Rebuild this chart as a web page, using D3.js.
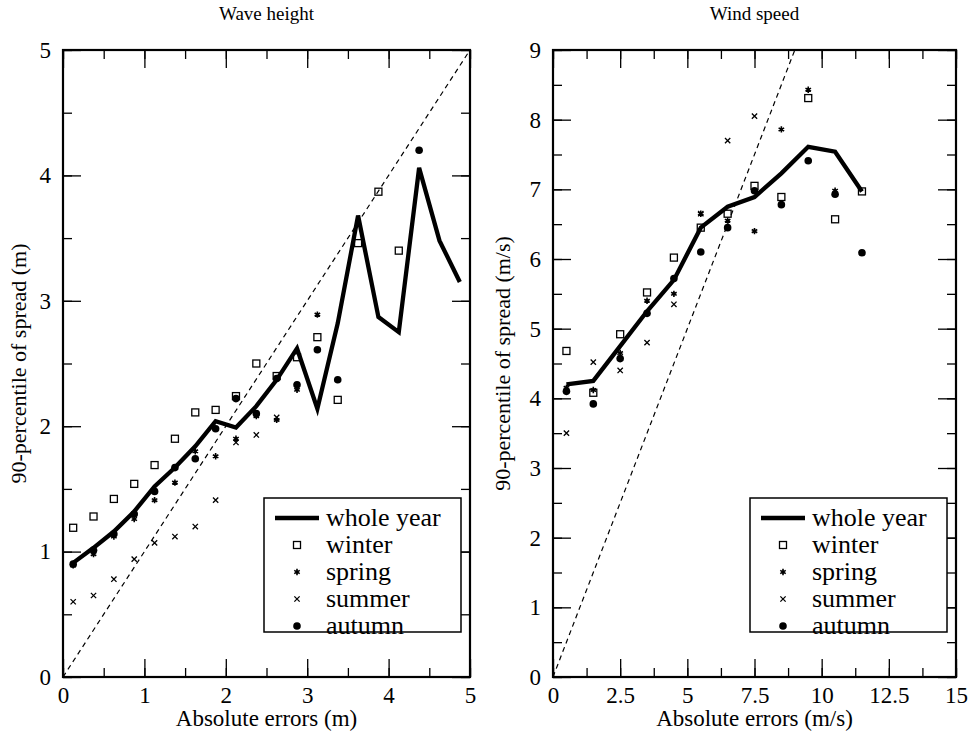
<!DOCTYPE html>
<html>
<head>
<meta charset="utf-8">
<script src="https://cdn.jsdelivr.net/npm/d3@7"></script>
<style>
  body { margin: 0; background: #fff; }
  svg text { font-family: "Times New Roman", "Liberation Serif", "DejaVu Serif", "Noto Serif", serif; fill: #000; }
</style>
</head>
<body>
<svg id="chart" width="970" height="733"></svg>
<script>
// wave height panel (bin centres in m)
var waveBins   = [0.125, 0.375, 0.625, 0.875, 1.125, 1.375, 1.625, 1.875, 2.125, 2.375,
                  2.625, 2.875, 3.125, 3.375, 3.625, 3.875, 4.125, 4.375, 4.625, 4.875];
var waveYear   = [0.91, 1.03, 1.16, 1.32, 1.52, 1.67, 1.84, 2.04, 1.99, 2.16,
                  2.37, 2.62, 2.14, 2.82, 3.68, 2.87, 2.75, 4.06, 3.48, 3.15];
var waveWinter = [1.19, 1.28, 1.42, 1.54, 1.69, 1.90, 2.11, 2.13, 2.24, 2.50,
                  2.40, 2.55, 2.71, 2.21, 3.46, 3.87, 3.40, null, null, null];
var waveSpring = [0.89, 0.98, 1.12, 1.26, 1.41, 1.55, 1.80, 1.76, 1.90, 2.08,
                  2.05, 2.29, 2.89, null, null, null, null, null, null, null];
var waveSummer = [0.60, 0.65, 0.78, 0.94, 1.07, 1.12, 1.20, 1.41, 1.87, 1.93,
                  2.07, null, null, null, null, null, null, null, null, null];
var waveAutumn = [0.90, 1.01, 1.14, 1.30, 1.48, 1.67, 1.74, 1.98, 2.22, 2.10,
                  2.38, 2.33, 2.61, 2.37, null, null, null, 4.20, null, null];

// wind speed panel (bin centres in m/s)
var windBins   = [0.5, 1.5, 2.5, 3.5, 4.5, 5.5, 6.5, 7.5, 8.5, 9.5, 10.5, 11.5];
var windYear   = [4.20, 4.25, 4.75, 5.25, 5.70, 6.45, 6.75, 6.89, 7.23, 7.61, 7.54, 6.97];
var windWinter = [4.68, 4.08, 4.92, 5.52, 6.02, 6.45, 6.65, 7.05, 6.89, 8.31, 6.57, 6.97];
var windSpring = [4.15, 4.12, 4.65, 5.40, 5.50, 6.65, 6.55, 6.40, 7.86, 8.43, 6.98, null];
var windSummer = [3.50, 4.52, 4.40, 4.80, 5.35, 6.65, 7.70, 8.05, null, null, null, null];
var windAutumn = [4.10, 3.92, 4.57, 5.22, 5.72, 6.10, 6.45, 6.98, 6.78, 7.41, 6.93, 6.09];

var legendNames = ["whole year", "winter", "spring", "summer", "autumn"];
var serif = '"Times New Roman", "Liberation Serif", "DejaVu Serif", "Noto Serif", serif';

var svg = d3.select("#chart");

function symbolFor(g, kind, x, y) {
  if (kind == "winter") {
    g.append("rect").attr("x", x - 3.5).attr("y", y - 3.5).attr("width", 7).attr("height", 7)
      .style("fill", "none").style("stroke", "#000").style("stroke-width", 1.3);
  } else if (kind == "spring") {
    g.append("path").attr("d", d3.symbol().type(d3.symbolAsterisk).size(28)())
      .attr("transform", "translate(" + x + "," + y + ")")
      .style("fill", "none").style("stroke", "#000").style("stroke-width", 1.6);
    g.append("circle").attr("cx", x).attr("cy", y).attr("r", 1.6).style("fill", "#000");
  } else if (kind == "summer") {
    g.append("path").attr("d", d3.symbol().type(d3.symbolX).size(20)())
      .attr("transform", "translate(" + x + "," + y + ")")
      .style("fill", "none").style("stroke", "#000").style("stroke-width", 1.3);
  } else {
    g.append("circle").attr("cx", x).attr("cy", y).attr("r", 3.8).style("fill", "#000");
  }
}

function panel(o) {
  var x = d3.scaleLinear().domain([0, o.xmax]).range([o.left, o.right]);
  var y = d3.scaleLinear().domain([0, o.ymax]).range([o.bottom, o.top]);
  var g = svg.append("g");

  // minor ticks then major ticks on all four sides, pointing inward
  function ticks(step, len, labels) {
    var xv = d3.range(0, o.xmax + 1e-9, step[0]);
    var yv = d3.range(0, o.ymax + 1e-9, step[1]);
    g.append("g").attr("transform", "translate(0," + o.bottom + ")")
      .call(d3.axisBottom(x).tickValues(xv).tickSize(-len).tickPadding(10)
        .tickFormat(labels ? d3.format("") : ""));
    g.append("g").attr("transform", "translate(0," + o.top + ")")
      .call(d3.axisTop(x).tickValues(xv).tickSize(-len).tickFormat(""));
    g.append("g").attr("transform", "translate(" + o.left + ",0)")
      .call(d3.axisLeft(y).tickValues(yv).tickSize(-len).tickPadding(12)
        .tickFormat(labels ? d3.format("") : ""));
    g.append("g").attr("transform", "translate(" + o.right + ",0)")
      .call(d3.axisRight(y).tickValues(yv).tickSize(-len).tickFormat(""));
    g.selectAll(".domain").remove();
    g.selectAll("g").attr("font-family", serif);
    g.selectAll(".tick line").style("stroke", "#000").style("stroke-width", 1.3);
    g.selectAll(".tick text").style("font-size", "23px").style("font-family", serif);
  }
  ticks(o.minor, 9, false);
  ticks(o.major, 18, true);

  g.append("rect").attr("x", o.left).attr("y", o.top)
    .attr("width", o.right - o.left).attr("height", o.bottom - o.top)
    .style("fill", "none").style("stroke", "#000").style("stroke-width", 2.2);

  // 1:1 reference line
  var lim = Math.min(o.xmax, o.ymax);
  g.append("line").attr("x1", x(0)).attr("y1", y(0)).attr("x2", x(lim)).attr("y2", y(lim))
    .style("stroke", "#000").style("stroke-width", 1.2).style("stroke-dasharray", "5,4");

  var seasons = [["winter", o.winter], ["spring", o.spring], ["summer", o.summer], ["autumn", o.autumn]];
  seasons.forEach(function(s) {
    for (var i = 0; i < o.bins.length; i++) {
      if (s[1][i] == null) continue;
      symbolFor(g, s[0], x(o.bins[i]), y(s[1][i]));
    }
  });

  var line = d3.line().x(function(d, i) { return x(o.bins[i]); }).y(function(d) { return y(d); });
  g.append("path").datum(o.year).attr("d", line)
    .style("fill", "none").style("stroke", "#000").style("stroke-width", 4.3).style("stroke-linejoin", "miter");

  // titles and axis labels
  var cx = (o.left + o.right) / 2;
  g.append("text").attr("x", cx).attr("y", 20).attr("text-anchor", "middle")
    .style("font-family", serif).style("font-size", "19px").text(o.title);
  g.append("text").attr("x", cx).attr("y", 726).attr("text-anchor", "middle")
    .style("font-family", serif).style("font-size", "23px").text(o.xlabel);
  g.append("text").attr("transform", "translate(" + o.ylabelX + "," + ((o.top + o.bottom) / 2) + ") rotate(-90)")
    .attr("text-anchor", "middle").style("font-family", serif).style("font-size", "22px").text(o.ylabel);

  // legend
  var lg = g.append("g");
  lg.append("rect").attr("x", o.legend[0]).attr("y", o.legend[1]).attr("width", 197).attr("height", 134)
    .style("fill", "#fff").style("stroke", "#000").style("stroke-width", 1.5);
  legendNames.forEach(function(n, i) {
    var ly = o.legend[1] + 20 + i * 27;
    var sx = o.legend[0] + 33;
    if (i == 0) {
      lg.append("line").attr("x1", sx - 22).attr("x2", sx + 22).attr("y1", ly).attr("y2", ly)
        .style("stroke", "#000").style("stroke-width", 4.3);
    } else {
      symbolFor(lg, n, sx, ly);
    }
    lg.append("text").attr("x", o.legend[0] + 62).attr("y", ly + 8)
      .style("font-family", serif).style("font-size", "26px").text(n);
  });
}

panel({
  left: 63, right: 470, top: 50, bottom: 677, xmax: 5, ymax: 5,
  major: [1, 1], minor: [0.5, 0.5],
  bins: waveBins, year: waveYear, winter: waveWinter, spring: waveSpring,
  summer: waveSummer, autumn: waveAutumn,
  title: "Wave height", xlabel: "Absolute errors (m)", ylabel: "90-percentile of spread (m)",
  ylabelX: 26, legend: [264, 498]
});

panel({
  left: 553, right: 956, top: 50, bottom: 677, xmax: 15, ymax: 9,
  major: [2.5, 1], minor: [1.25, 0.5],
  bins: windBins, year: windYear, winter: windWinter, spring: windSpring,
  summer: windSummer, autumn: windAutumn,
  title: "Wind speed", xlabel: "Absolute errors (m/s)", ylabel: "90-percentile of spread (m/s)",
  ylabelX: 510, legend: [750, 498]
});
</script>
</body>
</html>
